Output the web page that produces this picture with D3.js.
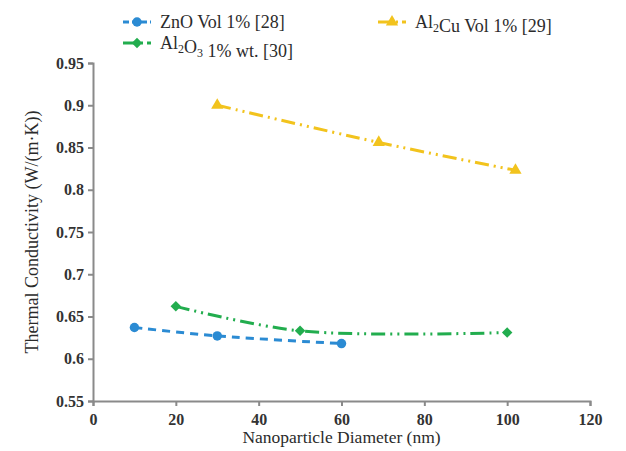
<!DOCTYPE html>
<html>
<head>
<meta charset="utf-8">
<script src="https://cdn.jsdelivr.net/npm/d3@7"></script>
<style>
  body { margin: 0; background: #fff; }
  text { font-family: "Liberation Serif", "DejaVu Serif", serif; fill: #2b2b2b; }
  .axis path, .axis line { stroke: #8a8a8a; stroke-width: 2; }
  .axis text { font-family: "Liberation Serif", serif; font-size: 16px; font-weight: bold; fill: #333; }
</style>
</head>
<body>
<svg class="chart"></svg>
<script>
// series data
const znoX = [10, 30, 60];
const znoY = [0.637, 0.627, 0.618];
const al2o3X = [20, 50, 100];
const al2o3Y = [0.662, 0.633, 0.631];
const al2cuX = [30, 69, 102];
const al2cuY = [0.9, 0.856, 0.823];

const xTicks = [0, 20, 40, 60, 80, 100, 120];
const yTicks = [0.55, 0.6, 0.65, 0.7, 0.75, 0.8, 0.85, 0.9, 0.95];

const width = 626, height = 451;
const margin = {top: 63, right: 36, bottom: 50, left: 93};

const svg = d3.select('.chart')
  .attr('width', width)
  .attr('height', height);

const x = d3.scaleLinear()
  .domain([0, 120])
  .range([margin.left, width - margin.right]);

const y = d3.scaleLinear()
  .domain([0.55, 0.95])
  .range([height - margin.bottom, margin.top]);

const xAxis = d3.axisBottom(x)
  .tickValues(xTicks)
  .tickSize(5)
  .tickPadding(8)
  .tickSizeOuter(5)
  .tickFormat(d3.format('d'));

const yAxis = d3.axisLeft(y)
  .tickValues(yTicks)
  .tickSize(5)
  .tickPadding(4)
  .tickSizeOuter(5)
  .tickFormat(d => String(+d.toFixed(2)));

svg.append('g')
  .attr('class', 'x axis')
  .attr('transform', `translate(0, ${y(0.55)})`)
  .call(xAxis)
  .attr('font-family', null)
  .attr('font-size', null);

svg.append('g')
  .attr('class', 'y axis')
  .attr('transform', `translate(${x(0)}, 0)`)
  .call(yAxis)
  .attr('font-family', null)
  .attr('font-size', null);

// axis titles
svg.append('text')
  .attr('x', (x(0) + x(120)) / 2)
  .attr('y', 443)
  .attr('text-anchor', 'middle')
  .style('font-size', '17.5px')
  .text('Nanoparticle Diameter (nm)');

svg.append('text')
  .attr('transform', `translate(38, ${(y(0.55) + y(0.95)) / 2}) rotate(-90)`)
  .attr('text-anchor', 'middle')
  .style('font-size', '18px')
  .text('Thermal Conductivity (W/(m·K))');

const series = [
  {xs: znoX, ys: znoY, color: '#2b8bd3', dash: '8,6', marker: d3.symbolCircle, size: 70, rot: 0,
   label: [['ZnO Vol 1% [28]', false]], lx: 123, ly: 22},
  {xs: al2o3X, ys: al2o3Y, color: '#22ad4e', dash: '14,5,2,5,2,5', marker: d3.symbolSquare, size: 55, rot: 45,
   label: [['Al', false], ['2', true], ['O', false], ['3', true], [' 1% wt. [30]', false]], lx: 123, ly: 43},
  {xs: al2cuX, ys: al2cuY, color: '#f2c31d', dash: '14,5,2,5,2,5', marker: d3.symbolTriangle, size: 65, rot: 0,
   label: [['Al', false], ['2', true], ['Cu Vol 1% [29]', false]], lx: 378, ly: 22}
];

const line = d3.line()
  .x(d => x(d[0]))
  .y(d => y(d[1]))
  .curve(d3.curveCatmullRom.alpha(0.5));

series.forEach(s => {
  const pts = s.xs.map((v, i) => [v, s.ys[i]]);

  svg.append('path')
    .datum(pts)
    .attr('fill', 'none')
    .attr('stroke', s.color)
    .attr('stroke-width', 3)
    .attr('stroke-dasharray', s.dash)
    .attr('d', line);

  svg.selectAll(null)
    .data(pts)
    .enter()
  .append('path')
    .attr('transform', d => `translate(${x(d[0])}, ${y(d[1])}) rotate(${s.rot})`)
    .attr('fill', s.color)
    .attr('d', d3.symbol().type(s.marker).size(s.size));

  // legend entry
  const g = svg.append('g').attr('transform', `translate(${s.lx}, ${s.ly})`);
  g.append('line')
    .attr('x1', 0).attr('x2', 28)
    .attr('stroke', s.color)
    .attr('stroke-width', 3)
    .attr('stroke-dasharray', s.dash === '8,6' ? '6,3' : '14,4,2,4');
  g.append('path')
    .attr('transform', `translate(14, 0) rotate(${s.rot})`)
    .attr('fill', s.color)
    .attr('d', d3.symbol().type(s.marker).size(s.size));
  const t = g.append('text')
    .attr('x', 37)
    .attr('dy', '0.35em')
    .style('font-size', '18px');
  s.label.forEach(p => {
    if (p[1]) {
      t.append('tspan').attr('dy', 4).style('font-size', '12px').text(p[0]);
      t.append('tspan').attr('dy', -4).text('');
    } else {
      t.append('tspan').text(p[0]);
    }
  });
});
</script>
</body>
</html>
